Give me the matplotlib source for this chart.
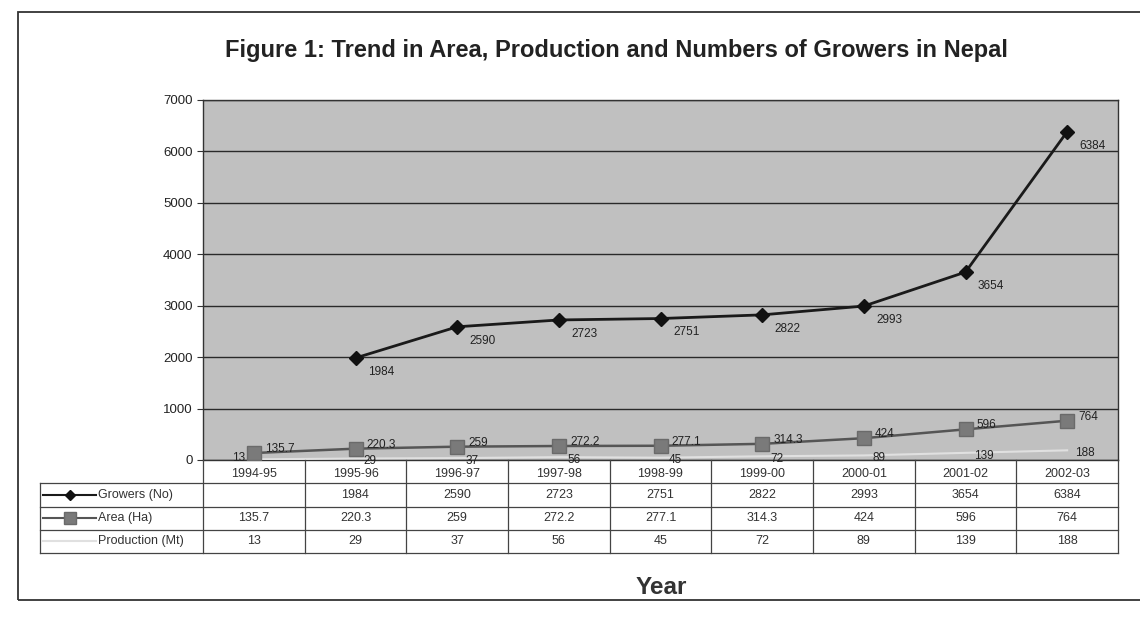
import matplotlib.pyplot as plt
from matplotlib.lines import Line2D
from matplotlib.patches import Rectangle

# data
years = ['1994-95', '1995-96', '1996-97', '1997-98', '1998-99',
         '1999-00', '2000-01', '2001-02', '2002-03']
growers = [None, 1984, 2590, 2723, 2751, 2822, 2993, 3654, 6384]
area = [135.7, 220.3, 259, 272.2, 277.1, 314.3, 424, 596, 764]
production = [13, 29, 37, 56, 45, 72, 89, 139, 188]

series_names = ['Growers (No)', 'Area (Ha)', 'Production (Mt)']

plt.rcParams['font.family'] = ['Liberation Sans', 'DejaVu Sans']

W, H = 1140, 627
fig = plt.figure(figsize=(W / 100, H / 100), dpi=100)
fig.patch.set_facecolor('white')

# pixel positions of the plot area in the scan
px_left, px_right, px_top, px_bottom = 203, 1118, 100, 460
ax = fig.add_axes([px_left / W, 1 - px_bottom / H,
                   (px_right - px_left) / W, (px_bottom - px_top) / H])
ax.set_facecolor('#c0c0c0')

x = list(range(len(years)))
gx = [i for i, v in zip(x, growers) if v is not None]
gy = [v for v in growers if v is not None]

ax.plot(x, production, color='#e0e0e0', lw=1.5, zorder=3)
ax.plot(x, area, color='#555555', lw=1.8, marker='s', ms=10,
        mfc='#7a7a7a', mec='#6a6a6a', zorder=4)
ax.plot(gx, gy, color='#1a1a1a', lw=2, marker='D', ms=7,
        mfc='#111111', mec='#111111', zorder=5)

lab = dict(fontsize=8.5, color='#222222', zorder=6)
for xi, v in zip(gx, gy):
    ax.annotate(f'{v}', (xi, v), xytext=(9, -10), textcoords='offset points',
                ha='left', va='center', **lab)
for xi, v in zip(x, area):
    ax.annotate(f'{v:g}', (xi, v), xytext=(8, 3), textcoords='offset points',
                ha='left', va='center', **lab)
for i, (xi, v) in enumerate(zip(x, production)):
    first = i == 0
    ax.annotate(f'{v}', (xi, v), xytext=(-6 if first else 6, 1 if first else -2),
                textcoords='offset points', ha='right' if first else 'left',
                va='center', **lab)

ax.set_xlim(-0.5, len(years) - 0.5)
ax.set_ylim(0, 7000)
ax.set_yticks(range(0, 7001, 1000))
ax.yaxis.grid(True, color='#2a2a2a', lw=1)
ax.set_axisbelow(True)
ax.set_xticks([])
ax.tick_params(axis='y', labelsize=9.5, labelcolor='#222222', length=4,
               direction='out', color='#333333')
for s in ax.spines.values():
    s.set_color('#333333')
    s.set_linewidth(1)

# data table under the chart
tb_left, tb_bottom = 40, 553
tax = fig.add_axes([tb_left / W, 1 - tb_bottom / H,
                    (px_right - tb_left) / W, (tb_bottom - px_bottom) / H])
unit = len(years) / (px_right - px_left)
xl = -0.5 - (px_left - tb_left) * unit
tax.set_xlim(xl, len(years) - 0.5)
tax.set_ylim(0, 4)
tax.axis('off')

lc = '#444444'
for yy in [0, 1, 2, 3]:
    tax.plot([xl, len(years) - 0.5], [yy, yy], color=lc, lw=0.9, clip_on=False)
for k in range(len(years) + 1):
    tax.plot([k - 0.5, k - 0.5], [0, 4], color=lc, lw=0.9, clip_on=False)
tax.plot([xl, xl], [0, 3], color=lc, lw=0.9, clip_on=False)

tfont = dict(fontsize=9, color='#333333', ha='center', va='center')
for i, yr in enumerate(years):
    tax.text(i, 3.4, yr, **tfont)
rows = [growers, area, production]
for r, vals in enumerate(rows):
    yy = 2.5 - r
    for i, v in enumerate(vals):
        if v is not None:
            tax.text(i, yy, f'{v:g}', **tfont)

# legend keys inside the table
key_styles = [dict(color='#1a1a1a', marker='D', ms=5, mfc='#111111', mec='#111111'),
              dict(color='#555555', marker='s', ms=8, mfc='#7a7a7a', mec='#6a6a6a'),
              dict(color='#e0e0e0')]
ks = xl + 3 * unit
ke = xl + 56 * unit
for r, (name, st) in enumerate(zip(series_names, key_styles)):
    yy = 2.5 - r
    tax.add_line(Line2D([ks, (ks + ke) / 2, ke], [yy, yy, yy], lw=1.5,
                        markevery=[1], **st))
    tax.text(ke + 2 * unit, yy, name, fontsize=9, color='#333333',
             ha='left', va='center')

fig.text(616 / W, 1 - 50 / H,
         'Figure 1: Trend in Area, Production and Numbers of Growers in Nepal',
         fontsize=17, fontweight='bold', ha='center', va='center', color='#222222')
fig.text(661 / W, 1 - 587 / H, 'Year', fontsize=17.5, fontweight='bold',
         ha='center', va='center', color='#333333')

fig.patches.append(Rectangle((18 / W, 1 - 600 / H), (1160 - 18) / W, (600 - 12) / H,
                             transform=fig.transFigure, fill=False,
                             ec='#333333', lw=1.3))

fig.savefig('out.png', dpi=100)
